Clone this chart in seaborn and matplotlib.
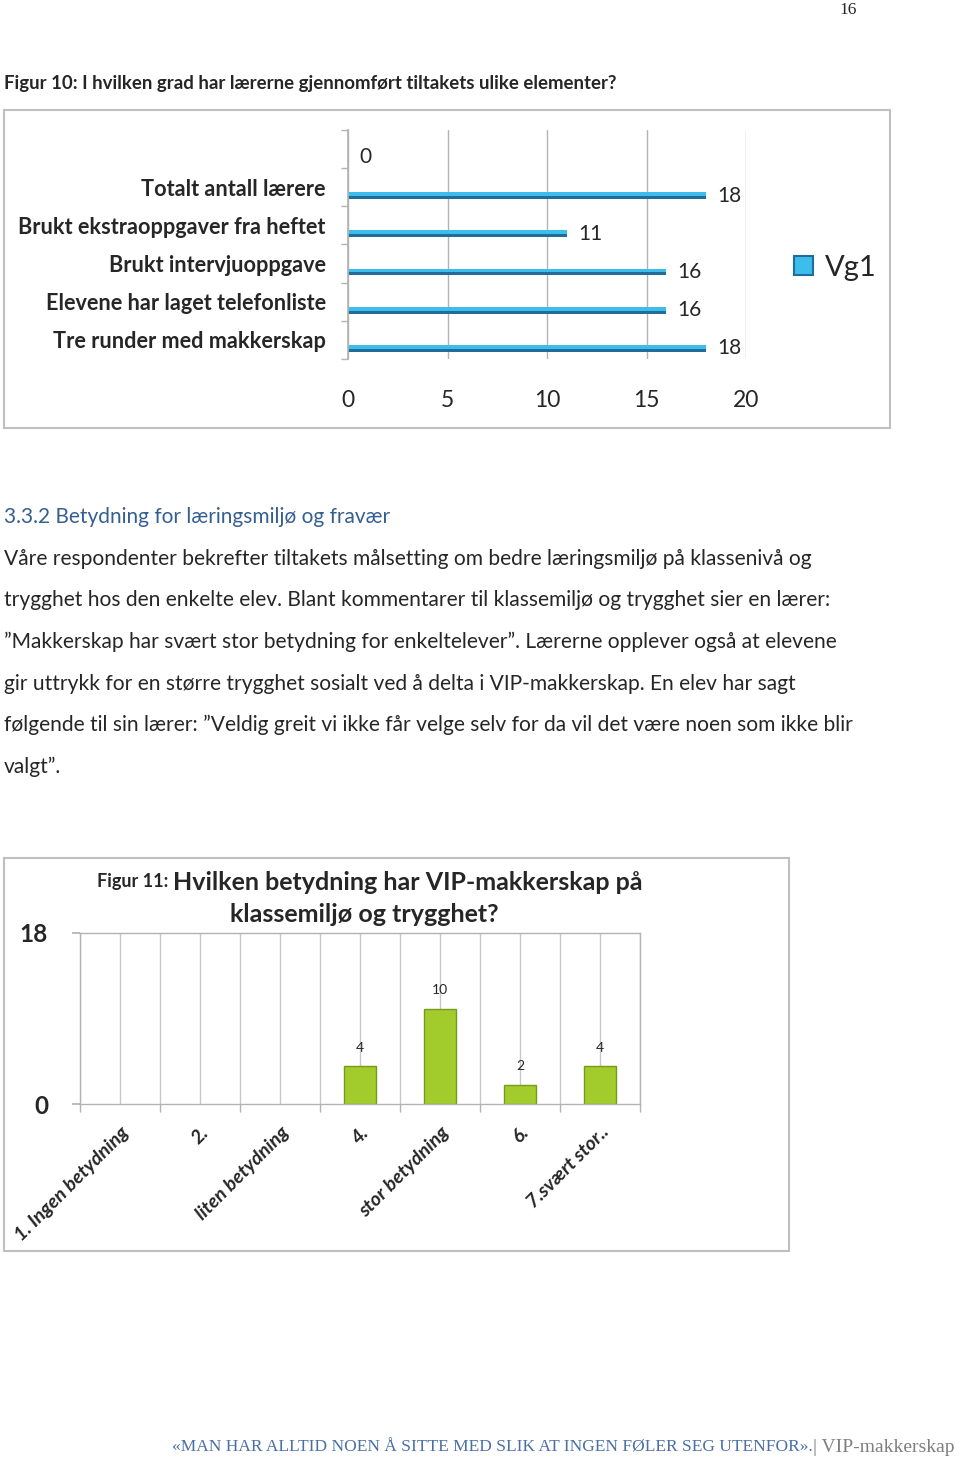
import numpy as np
import pandas as pd
import matplotlib.pyplot as plt
import matplotlib.transforms as mtransforms
from matplotlib.patches import Rectangle
import seaborn as sns

# Figur 10 data (horizontal bars)
fig10_labels = ["", "Totalt antall lærere", "Brukt ekstraoppgaver fra heftet",
                "Brukt intervjuoppgave", "Elevene har laget telefonliste",
                "Tre runder med makkerskap"]
fig10_values = [0, 18, 11, 16, 16, 18]
fig10_xticks = [0, 5, 10, 15, 20]
fig10_series = "Vg1"

# Figur 11 data (vertical bars)
fig11_labels = ["1. Ingen betydning", "2.", "liten betydning", "4.",
                "stor betydning", "6.", "7.svært stor.."]
fig11_values = [0, 0, 0, 4, 10, 2, 4]
fig11_yticks = [0, 18]

body_lines = [
    "Våre respondenter bekrefter tiltakets målsetting om bedre læringsmiljø på klassenivå og",
    "trygghet hos den enkelte elev. Blant kommentarer til klassemiljø og trygghet sier en lærer:",
    "\u201dMakkerskap har svært stor betydning for enkeltelever\u201d. Lærerne opplever også at elevene",
    "gir uttrykk for en større trygghet sosialt ved å delta i VIP-makkerskap. En elev har sagt",
    "følgende til sin lærer: \u201dVeldig greit vi ikke får velge selv for da vil det være noen som ikke blir",
    "valgt\u201d.",
]

W, H = 960, 1460
sns.set_theme(style="white")
plt.rcParams["font.family"] = ["Lato", "DejaVu Sans"]

fig = plt.figure(figsize=(W / 100, H / 100), dpi=100)


def fx(x):
    return x / W


def fy(y):
    return 1 - y / H


SERIF = ["Liberation Serif", "DejaVu Serif"]
LIGHT_BLUE = "#3dbdec"
DARK_BLUE = "#1f6d98"
GRID = "#b3b3b3"

# page text
fig.text(fx(848), fy(10), "16", family=SERIF, fontsize=12.5, ha="center", va="center")
fig.text(fx(4), fy(83), "Figur 10: I hvilken grad har lærerne gjennomført tiltakets ulike elementer?",
         fontsize=13.4, fontweight="bold", ha="left", va="center")
fig.text(fx(4), fy(517), "3.3.2 Betydning for læringsmiljø og fravær",
         fontsize=15, color="#365f91", ha="left", va="center")
for i, line in enumerate(body_lines):
    fig.text(fx(4), fy(559 + i * 41.5), line, fontsize=15.1, ha="left", va="center")

fig.text(fx(172), fy(1447), "«MAN HAR ALLTID NOEN Å SITTE MED SLIK AT INGEN FØLER SEG UTENFOR».",
         family=SERIF, fontsize=12.5, color="#4a6fa5", ha="left", va="center")
fig.text(fx(813), fy(1447), "| VIP-makkerskap", family=SERIF, fontsize=14,
         color="#7f7f7f", ha="left", va="center")

# chart frames
for x0, y0, x1, y1 in [(4, 110, 890, 428), (4, 858, 789, 1251)]:
    fig.add_artist(Rectangle((fx(x0), fy(y1)), fx(x1) - fx(x0), fy(y0) - fy(y1),
                             transform=fig.transFigure, fill=False,
                             edgecolor="#bfbfbf", linewidth=1.5))

# ---- Figur 10 ----
ax1 = fig.add_axes([fx(348), fy(359), fx(746) - fx(348), fy(130) - fy(359)])
pos = np.arange(len(fig10_values)) + 0.22
df10 = pd.DataFrame({"verdi": fig10_values, "pos": pos})
sns.barplot(data=df10, x="verdi", y="pos", orient="h", native_scale=True,
            width=0.18, color=LIGHT_BLUE, saturation=1, linewidth=0,
            label=fig10_series, ax=ax1)
df10b = pd.DataFrame({"verdi": fig10_values, "pos": pos + 0.05})
sns.barplot(data=df10b, x="verdi", y="pos", orient="h", native_scale=True,
            width=0.08, color=DARK_BLUE, saturation=1, linewidth=0, ax=ax1)
ax1.bar_label(ax1.containers[0], labels=[str(v) for v in fig10_values],
              padding=8, fontsize=15)

ax1.set_xlim(0, 20)
ax1.set_ylim(len(fig10_values) - 0.5, -0.5)
ax1.set_xticks(fig10_xticks)
ax1.set_xticklabels([str(t) for t in fig10_xticks], fontsize=16.5)
ax1.set_yticks(np.arange(len(fig10_labels)))
ax1.set_yticklabels(fig10_labels, fontsize=15.6, fontweight="bold")
ax1.set_yticks(np.arange(len(fig10_labels) + 1) - 0.5, minor=True)
ax1.tick_params(axis="y", which="major", length=0, pad=16)
ax1.tick_params(axis="y", which="minor", length=5, color=GRID, left=True)
ax1.tick_params(axis="x", length=0, pad=22)
ax1.grid(axis="x", color=GRID, linewidth=1)
ax1.set_axisbelow(True)
ax1.set_xlabel("")
ax1.set_ylabel("")
for s in ["top", "right", "bottom"]:
    ax1.spines[s].set_visible(False)
ax1.spines["left"].set_color(GRID)
ax1.legend(loc="center left", bbox_to_anchor=(fx(794), fy(268)),
           bbox_transform=fig.transFigure, frameon=False, fontsize=21,
           borderpad=0, borderaxespad=0,
           handlelength=0.65, handleheight=0.65, handletextpad=0.4)
for h in ax1.get_legend().legend_handles:
    h.set_edgecolor(DARK_BLUE)
    h.set_linewidth(1.5)

# ---- Figur 11 ----
ax2 = fig.add_axes([fx(80), fy(1104), fx(640) - fx(80), fy(933) - fy(1104)])
sns.barplot(x=fig11_labels, y=fig11_values, color="#a2cc2c", saturation=1,
            edgecolor="#779a1c", linewidth=1, width=0.41, ax=ax2)
for p, v in zip(ax2.containers[0], fig11_values):
    if v == 0:
        p.set_visible(False)
ax2.bar_label(ax2.containers[0], labels=[str(v) if v else "" for v in fig11_values],
              padding=9, fontsize=10)
ax2.set_ylim(0, 18)
ax2.set_xlim(-0.5, len(fig11_values) - 0.5)
ax2.set_yticks(fig11_yticks)
ax2.set_yticklabels([str(t) for t in fig11_yticks], fontsize=17.5, fontweight="bold")
ax2.set_xticks(np.arange(len(fig11_values) + 1) - 0.5, minor=True)
ax2.set_xticks(np.arange(len(fig11_values)))
ax2.set_xticklabels(fig11_labels, rotation=45, rotation_mode="anchor",
                    ha="right", va="top", fontsize=14, fontweight="bold",
                    fontstyle="italic")
offset = mtransforms.ScaledTranslation(5 / 100, 0, fig.dpi_scale_trans)
for lbl in ax2.get_xticklabels():
    lbl.set_transform(lbl.get_transform() + offset)
ax2.tick_params(axis="x", which="major", length=0, pad=14)
ax2.tick_params(axis="x", which="minor", length=6, color=GRID, bottom=True)
ax2.tick_params(axis="y", length=6, color=GRID, left=True, pad=17)
ax2.grid(axis="x", which="both", color="#c8c8c8", linewidth=1)
ax2.set_axisbelow(True)
for s in ["top", "bottom", "left", "right"]:
    ax2.spines[s].set_color(GRID)
    ax2.spines[s].set_linewidth(1)

fig.text(fx(168), fy(882), "Figur 11:", fontsize=13, fontweight="bold",
         ha="right", va="center")
fig.text(fx(173), fy(882), "Hvilken betydning har VIP-makkerskap på", fontsize=18,
         fontweight="bold", ha="left", va="center")
fig.text(fx(364), fy(915), "klassemiljø og trygghet?", fontsize=18,
         fontweight="bold", ha="center", va="center")

fig.savefig("out.png", dpi=100)
